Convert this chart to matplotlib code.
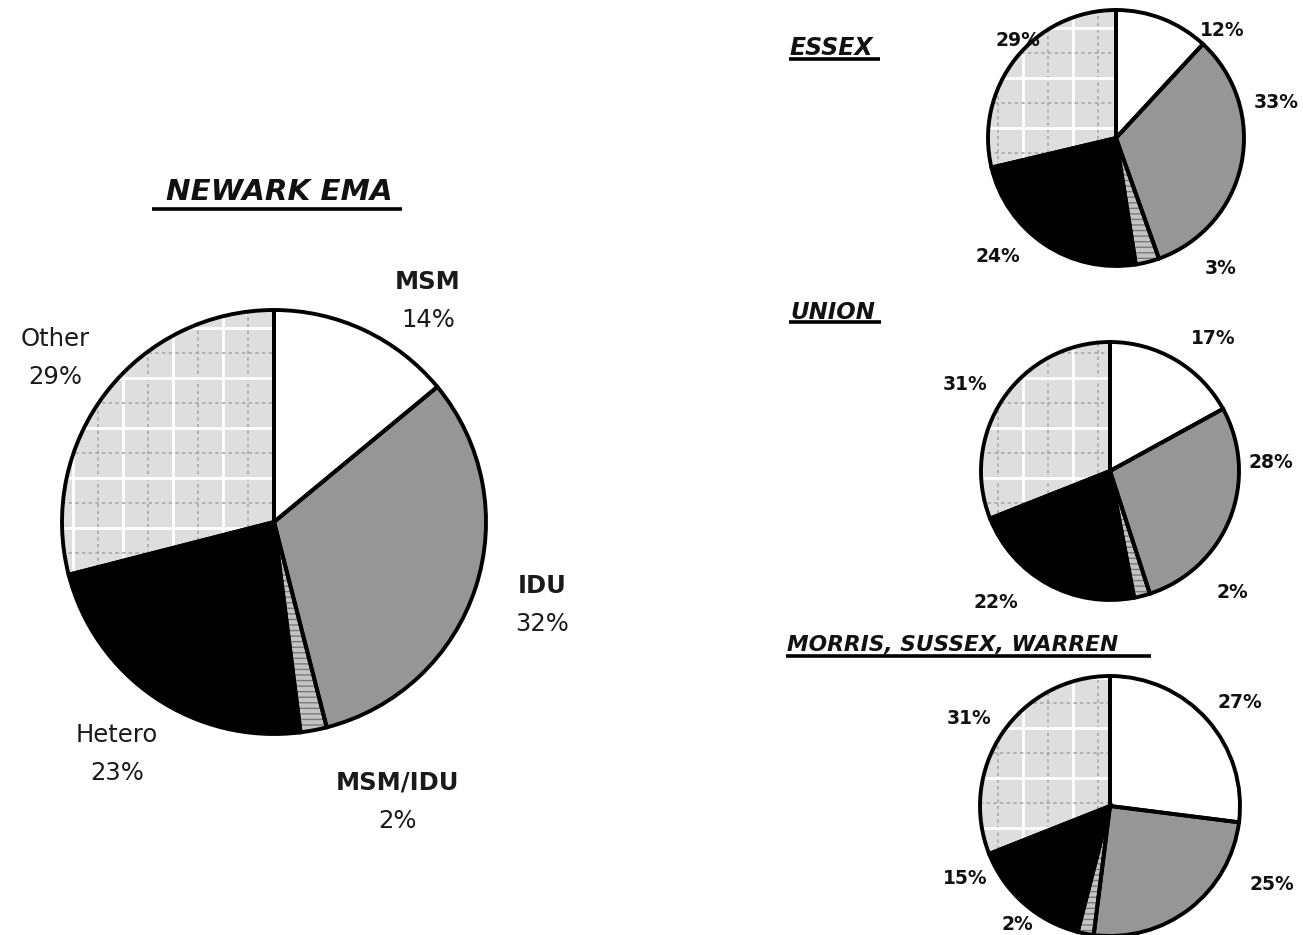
import matplotlib
matplotlib.use("Agg")
import matplotlib.pyplot as plt
import numpy as np

# ---------------- data ----------------
categories = ["MSM", "IDU", "MSM/IDU", "Hetero", "Other"]
newark_values = [14, 32, 2, 23, 29]
essex_values = [12, 33, 3, 24, 29]
union_values = [17, 28, 2, 22, 31]
morris_values = [27, 25, 2, 15, 31]
titles = ["NEWARK EMA", "ESSEX", "UNION", "MORRIS, SUSSEX, WARREN"]

# ---------------- style ----------------
W, H = 1303, 935
face_colors = ["#ffffff", "#969696", "#c4c4c4", "#000000", "#dedede"]
hatches = ["", "", "---", "", ""]

fig = plt.figure(figsize=(W / 100, H / 100), dpi=100)
ax = fig.add_axes([0, 0, 1, 1])


def Y(py):
    return H - py


def draw_pie(values, cx, cy, r):
    # filled layer (hatch colour = grey)
    wedges, _ = ax.pie(values, startangle=90, counterclock=False,
                       center=(cx, Y(cy)), radius=r, colors=face_colors,
                       hatch=hatches, frame=True,
                       wedgeprops=dict(edgecolor="#7a7a7a", linewidth=0))
    # grid pattern on the "Other" wedge
    other = wedges[4]
    for x in np.arange(23, W, 50):
        l = ax.vlines(x, Y(cy + r), Y(cy - r), colors="white", linewidth=2.0, zorder=3)
        l.set_clip_path(other)
        l2 = ax.vlines(x + 25, Y(cy + r), Y(cy - r), colors="#a8a8a8",
                       linewidth=1.2, linestyles=(0, (2, 2)), zorder=3)
        l2.set_clip_path(other)
    for y in np.arange(28, H, 50):
        l = ax.hlines(Y(y), cx - r, cx + r, colors="white", linewidth=2.0, zorder=3)
        l.set_clip_path(other)
        l2 = ax.hlines(Y(y + 25), cx - r, cx + r, colors="#a8a8a8",
                       linewidth=1.2, linestyles=(0, (2, 2)), zorder=3)
        l2.set_clip_path(other)
    # outline layer
    ax.pie(values, startangle=90, counterclock=False, center=(cx, Y(cy)),
           radius=r, colors=["none"] * len(values), frame=True,
           wedgeprops=dict(edgecolor="black", linewidth=2.8, fill=False, zorder=4))
    return wedges


def title(text, x, y, size, ha="left"):
    return ax.text(x, Y(y), text, fontsize=size, fontstyle="italic", fontweight="bold",
                   family="DejaVu Sans", ha=ha, va="baseline", color="#111111")


# ---------------- pies ----------------
draw_pie(newark_values, 274, 522, 212)
draw_pie(essex_values, 1116, 138, 128)
draw_pie(union_values, 1110, 471, 129)
draw_pie(morris_values, 1110, 806, 130)

# ---------------- titles ----------------
ttl = [
    title(titles[0], 279, 200, 21.2, ha="center"),
    title(titles[1], 790, 55, 17),
    title(titles[2], 790, 319, 16.5),
    title(titles[3], 787, 651, 15.7),
]
underline_y = [209, 59, 322, 656]
fig.canvas.draw()
rend = fig.canvas.get_renderer()
inv = ax.transData.inverted()
for t, uy in zip(ttl, underline_y):
    bb = t.get_window_extent(rend)
    (x0, _), (x1, _) = inv.transform([[bb.x0, bb.y0], [bb.x1, bb.y1]])
    ax.plot([x0 - 1, x1 - 3], [Y(uy), Y(uy)], color="black", linewidth=2.6,
            solid_capstyle="butt")

# ---------------- labels ----------------
main_labels = [
    (categories[0], newark_values[0], 428, 301, "bold"),
    (categories[1], newark_values[1], 542, 605, "bold"),
    (categories[2], newark_values[2], 398, 802, "bold"),
    (categories[3], newark_values[3], 117, 754, "normal"),
    (categories[4], newark_values[4], 55, 358, "normal"),
]
for name, v, x, y, w in main_labels:
    ax.text(x, Y(y - 19), name, fontsize=17.5, family="DejaVu Sans", fontweight=w,
            ha="center", va="center", color="#1a1a1a")
    ax.text(x, Y(y + 19), f"{v}%", fontsize=17.5, family="DejaVu Sans",
            fontweight="normal", ha="center", va="center", color="#1a1a1a")

small_pos = {
    "essex": [(1222, 30), (1276, 103), (1221, 268), (998, 256), (1018, 40)],
    "union": [(1213, 338), (1271, 462), (1232, 593), (996, 602), (965, 385)],
    "morris": [(1240, 702), (1272, 885), (1017, 925), (965, 878), (969, 718)],
}
for key, vals in [("essex", essex_values), ("union", union_values), ("morris", morris_values)]:
    for v, (x, y) in zip(vals, small_pos[key]):
        ax.text(x, Y(y), f"{v}%", fontsize=13.5, family="DejaVu Sans", fontweight="bold",
                ha="center", va="center", color="#111111")

ax.set_xlim(0, W)
ax.set_ylim(0, H)
ax.set_aspect("auto")
ax.axis("off")
fig.savefig("out.png", dpi=100, facecolor="white")
